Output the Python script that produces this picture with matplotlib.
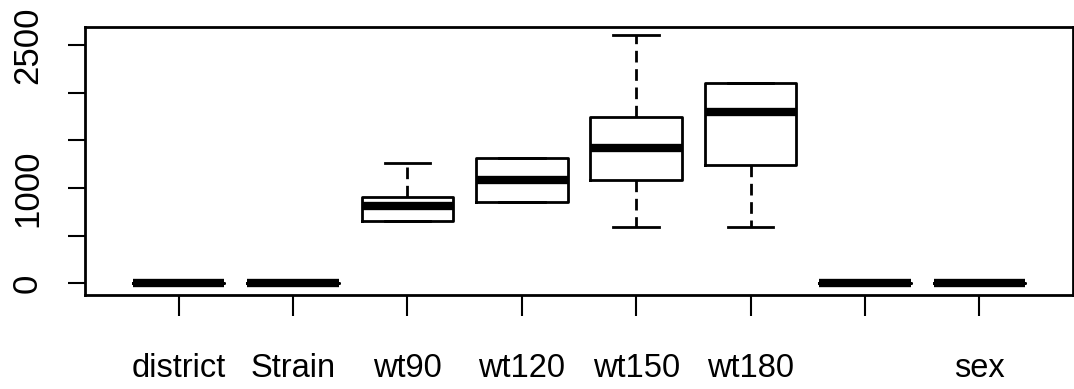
import matplotlib
matplotlib.use("Agg")
import matplotlib.pyplot as plt

# summary values (R-style boxplot)
names = ['district', 'Strain', 'wt90', 'wt120', 'wt150', 'wt180', '', 'sex']
whislo = [0, 0, 654, 856, 587, 587, 0, 0]
q1 = [0, 0, 654, 856, 1084, 1241, 0, 0]
med = [0, 0, 814, 1084, 1419, 1794, 0, 0]
q3 = [0, 0, 908, 1318, 1742, 2098, 0, 0]
whishi = [0, 0, 1259, 1318, 2605, 2098, 0, 0]
yticks = [0, 500, 1000, 1500, 2000, 2500]
ylabels = ['0', '', '1000', '', '', '2500']

plt.rcParams['font.family'] = ['Liberation Sans', 'DejaVu Sans']

fig = plt.figure(figsize=(10.74, 3.89), dpi=100)
ax = fig.add_axes([0.0791, 0.2416, 0.92, 0.6898])

stats = []
for i in range(len(names)):
    stats.append(dict(whislo=whislo[i], q1=q1[i], med=med[i], q3=q3[i],
                      whishi=whishi[i], fliers=[], label=names[i]))

lw = 2.0
ax.bxp(stats, positions=range(1, len(names) + 1), widths=0.8, showfliers=False,
       boxprops=dict(color='black', linewidth=lw),
       medianprops=dict(color='black', linewidth=6, solid_capstyle='butt'),
       whiskerprops=dict(color='black', linewidth=lw, linestyle=(0, (4.2, 2.4))),
       capprops=dict(color='black', linewidth=lw),
       capwidths=0.4)

ax.set_xlim(0.18, 8.82)
ax.set_ylim(-123, 2692)
ax.set_yticks(yticks)
ax.set_yticklabels(ylabels, rotation=90, va='center')
ax.set_xticks(range(1, len(names) + 1))
ax.set_xticklabels(names)

for s in ax.spines.values():
    s.set_linewidth(lw)
ax.tick_params(axis='y', length=12.5, width=1.5, pad=17, labelsize=25)
ax.tick_params(axis='x', length=15, width=1.5, pad=27, labelsize=23.5)

fig.savefig('out.png', dpi=100)
